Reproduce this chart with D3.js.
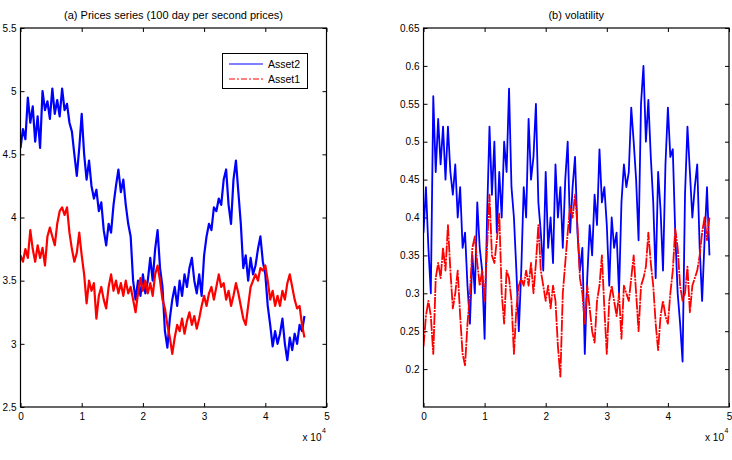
<!DOCTYPE html>
<html>
<head>
<meta charset="utf-8">
<script src="https://cdn.jsdelivr.net/npm/d3@7"></script>
<style>
  html, body { margin: 0; padding: 0; background: #fff; }
  svg { display: block; font-family: "Liberation Sans", Arial, sans-serif; }
</style>
</head>
<body>
<svg id="chart" width="732" height="460"></svg>
<script>
// ---- data ----
const sampleStep = 400; // x units between consecutive samples
const xTicks = [0, 10000, 20000, 30000, 40000, 50000];
const leftYTicks = [2.5, 3, 3.5, 4, 4.5, 5, 5.5];
const rightYTicks = [0.2, 0.25, 0.3, 0.35, 0.4, 0.45, 0.5, 0.55, 0.6, 0.65];
const seriesNames = ["Asset2", "Asset1"];
const titles = ["(a) Prices series (100 day per second prices)", "(b) volatility"];

const priceAsset2 = [4.55,4.7,4.62,4.95,4.75,4.88,4.6,4.8,4.55,5.0,
4.85,4.92,4.78,5.02,4.82,4.93,4.8,5.02,4.85,4.9,
4.75,4.68,4.5,4.33,4.55,4.82,4.5,4.3,4.45,4.25,
4.15,4.22,4.05,4.12,3.9,3.78,3.95,3.88,4.1,4.25,
4.38,4.2,4.3,4.1,3.95,3.85,3.5,3.35,3.5,3.38,
3.55,3.4,3.5,3.68,3.5,3.75,3.9,3.6,3.45,3.1,
2.97,3.2,3.35,3.45,3.3,3.5,3.38,3.55,3.45,3.6,
3.68,3.5,3.4,3.55,3.38,3.7,3.85,3.95,3.9,4.08,
4.05,4.15,4.1,4.3,4.38,4.1,3.95,4.3,4.45,4.2,
3.95,3.6,3.7,3.5,3.68,3.55,3.62,3.75,3.85,3.65,
3.55,3.3,3.15,2.98,3.1,3.0,3.08,3.2,3.0,2.87,
3.05,2.95,3.08,3.0,3.15,3.1,3.22];

const priceAsset1 = [3.7,3.65,3.75,3.68,3.9,3.75,3.65,3.78,3.68,3.76,
3.62,3.85,3.92,3.85,3.78,3.95,4.05,4.08,4.02,4.08,
3.88,3.75,3.65,3.72,3.88,3.7,3.55,3.32,3.5,3.42,
3.48,3.2,3.38,3.45,3.35,3.28,3.45,3.55,3.42,3.5,
3.4,3.48,3.38,3.5,3.4,3.45,3.35,3.25,3.4,3.52,
3.42,3.5,3.4,3.48,3.38,3.55,3.62,3.5,3.35,3.28,
3.15,3.05,2.92,3.05,3.15,3.1,3.2,3.08,3.18,3.25,
3.15,3.22,3.12,3.2,3.3,3.38,3.3,3.4,3.45,3.35,
3.45,3.55,3.45,3.48,3.35,3.42,3.3,3.38,3.48,3.4,
3.3,3.2,3.15,3.3,3.45,3.5,3.55,3.5,3.6,3.58,
3.62,3.5,3.35,3.42,3.3,3.38,3.3,3.42,3.35,3.48,
3.55,3.45,3.35,3.28,3.3,3.15,3.05];

const volAsset2 = [0.38,0.44,0.36,0.30,0.56,0.46,0.53,0.47,0.52,0.45,
0.52,0.46,0.43,0.47,0.40,0.44,0.36,0.38,0.31,0.26,
0.35,0.30,0.42,0.36,0.33,0.24,0.40,0.52,0.43,0.50,
0.38,0.46,0.40,0.50,0.46,0.57,0.44,0.40,0.33,0.25,
0.33,0.44,0.40,0.53,0.45,0.48,0.55,0.42,0.38,0.33,
0.46,0.36,0.40,0.34,0.47,0.40,0.44,0.36,0.45,0.50,
0.38,0.44,0.48,0.38,0.33,0.36,0.22,0.32,0.39,0.35,
0.43,0.39,0.49,0.42,0.44,0.39,0.31,0.40,0.36,0.38,
0.30,0.42,0.47,0.44,0.46,0.545,0.50,0.45,0.37,0.55,
0.60,0.50,0.555,0.48,0.42,0.32,0.46,0.41,0.33,0.47,
0.545,0.48,0.49,0.38,0.30,0.26,0.21,0.43,0.52,0.46,
0.40,0.44,0.47,0.36,0.29,0.37,0.44,0.35];

const volAsset1 = [0.23,0.27,0.29,0.27,0.22,0.32,0.34,0.32,0.36,0.33,
0.39,0.33,0.28,0.30,0.33,0.27,0.22,0.205,0.26,0.30,
0.36,0.375,0.34,0.31,0.33,0.29,0.36,0.43,0.35,0.34,
0.37,0.405,0.30,0.26,0.33,0.32,0.29,0.22,0.28,0.31,
0.32,0.31,0.33,0.31,0.34,0.30,0.34,0.39,0.33,0.31,
0.29,0.31,0.28,0.31,0.29,0.23,0.19,0.30,0.34,0.38,
0.415,0.40,0.43,0.39,0.32,0.30,0.26,0.31,0.28,0.25,
0.235,0.29,0.31,0.35,0.28,0.22,0.29,0.31,0.29,0.27,
0.30,0.24,0.31,0.30,0.29,0.32,0.35,0.30,0.25,0.31,
0.32,0.335,0.38,0.34,0.31,0.26,0.225,0.27,0.29,0.27,
0.26,0.30,0.33,0.385,0.36,0.31,0.29,0.30,0.335,0.275,
0.31,0.32,0.33,0.35,0.38,0.40,0.37,0.40];

// ---- drawing ----
const svg = d3.select("#chart");
const BLUE = "#0000ff", RED = "#ff0000";

function panel(cfg) {
  const g = svg.append("g");
  const x = d3.scaleLinear().domain([0, 50000]).range([cfg.x0, cfg.x1]);
  const y = d3.scaleLinear().domain(cfg.yDomain).range([cfg.y1, cfg.y0]);
  const tick = 4;

  g.append("g").attr("transform", `translate(0,${cfg.y1})`)
    .call(d3.axisBottom(x).tickValues(xTicks).tickFormat(d => d / 10000)
      .tickSizeInner(-tick).tickSizeOuter(0).tickPadding(6));
  g.append("g").attr("transform", `translate(0,${cfg.y0})`)
    .call(d3.axisTop(x).tickValues(xTicks).tickFormat("")
      .tickSizeInner(-tick).tickSizeOuter(0));
  g.append("g").attr("transform", `translate(${cfg.x0},0)`)
    .call(d3.axisLeft(y).tickValues(cfg.yTicks).tickFormat(d3.format("~g"))
      .tickSizeInner(-tick).tickSizeOuter(0).tickPadding(4));
  g.append("g").attr("transform", `translate(${cfg.x1},0)`)
    .call(d3.axisRight(y).tickValues(cfg.yTicks).tickFormat("")
      .tickSizeInner(-tick).tickSizeOuter(0));

  g.selectAll(".domain").remove();
  g.selectAll(".tick line").attr("stroke", "#000").attr("stroke-width", 1);
  g.selectAll(".tick text").attr("font-size", 10).attr("fill", "#000")
    .attr("font-family", "Liberation Sans, Arial, sans-serif");

  const clipId = "clip" + cfg.id;
  svg.append("defs").append("clipPath").attr("id", clipId)
    .append("rect").attr("x", cfg.x0).attr("y", cfg.y0)
    .attr("width", cfg.x1 - cfg.x0).attr("height", cfg.y1 - cfg.y0);

  const line = d3.line().x((d, i) => x(i * sampleStep)).y(d => y(d));
  const lines = g.append("g").attr("clip-path", `url(#${clipId})`);
  lines.append("path").datum(cfg.s2).attr("d", line)
    .attr("fill", "none").attr("stroke", BLUE).attr("stroke-width", cfg.lw)
    .attr("stroke-linejoin", "round");
  lines.append("path").datum(cfg.s1).attr("d", line)
    .attr("fill", "none").attr("stroke", RED).attr("stroke-width", cfg.lw)
    .attr("stroke-linejoin", "round")
    .attr("stroke-dasharray", cfg.redDash || null);

  g.append("rect").attr("x", cfg.x0).attr("y", cfg.y0)
    .attr("width", cfg.x1 - cfg.x0).attr("height", cfg.y1 - cfg.y0)
    .attr("fill", "none").attr("stroke", "#000").attr("stroke-width", 1.2);

  g.append("text").attr("x", (cfg.x0 + cfg.x1) / 2).attr("y", 19)
    .attr("text-anchor", "middle").attr("font-size", 11).text(cfg.title);

  g.append("text").attr("x", cfg.x1 - 5).attr("y", 441)
    .attr("text-anchor", "end").attr("font-size", 10).text("x 10");
  g.append("text").attr("x", cfg.x1 - 4.5).attr("y", 433)
    .attr("font-size", 7).text("4");

  return { g, x, y };
}

const left = panel({ id: "a", x0: 20.5, x1: 326.5, y0: 28, y1: 407,
  yDomain: [2.5, 5.5], yTicks: leftYTicks, s2: priceAsset2, s1: priceAsset1,
  title: titles[0], lw: 2.2 });
panel({ id: "b", x0: 423.5, x1: 729, y0: 28, y1: 407,
  yDomain: [0.15, 0.65], yTicks: rightYTicks, s2: volAsset2, s1: volAsset1,
  title: titles[1], lw: 1.8, redDash: "12,1,2,1" });

// legend
const lg = left.g.append("g");
lg.append("rect").attr("x", 222.5).attr("y", 53.5).attr("width", 85).attr("height", 35)
  .attr("fill", "#fff").attr("stroke", "#000").attr("stroke-width", 1);
const legendColors = [BLUE, RED];
seriesNames.forEach((name, i) => {
  const yy = 64 + i * 15;
  lg.append("line").attr("x1", 229).attr("x2", 263).attr("y1", yy).attr("y2", yy)
    .attr("stroke", legendColors[i]).attr("stroke-width", 1)
    .attr("stroke-dasharray", i === 1 ? "6,2,2,2" : null);
  lg.append("text").attr("x", 268).attr("y", yy + 3.5).attr("font-size", 10.5).text(name);
});
</script>
</body>
</html>
